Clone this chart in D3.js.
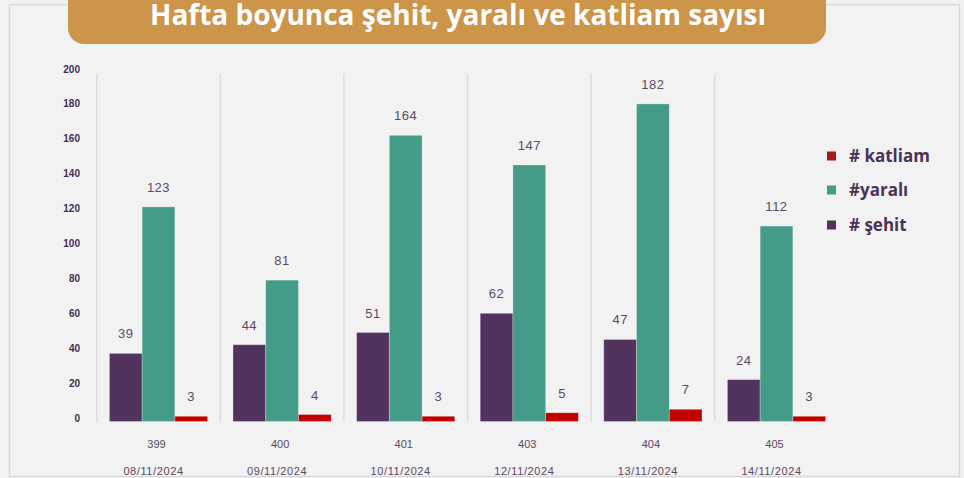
<!DOCTYPE html>
<html>
<head>
<meta charset="utf-8">
<script src="https://cdn.jsdelivr.net/npm/d3@7"></script>
<style>
  body { margin: 0; background: #f2f2f2; }
  svg { display: block; }
</style>
</head>
<body>
<div id="chart"></div>
<script>
// Data
const weeks = ["399", "400", "401", "403", "404", "405"];
const dates = ["08/11/2024", "09/11/2024", "10/11/2024", "12/11/2024", "13/11/2024", "14/11/2024"];
const sehit = [39, 44, 51, 62, 47, 24];
const yarali = [123, 81, 164, 147, 182, 112];
const katliam = [3, 4, 3, 5, 7, 3];
const yTicks = [0, 20, 40, 60, 80, 100, 120, 140, 160, 180, 200];
const seriesNames = ["# şehit", "#yaralı", "# katliam"];
const title = "Hafta boyunca şehit, yaralı ve katliam sayısı";

const width = 964;
const height = 478;
const colors = {"# şehit": "#51335e", "#yaralı": "#449b87", "# katliam": "#c00000"};
const legendColors = {"# şehit": "#51335e", "#yaralı": "#449b87", "# katliam": "#a61a1a"};

const svg = d3.select("#chart")
    .append("svg")
    .attr("width", width)
    .attr("height", height)
    .style("font-family", "'Liberation Sans', Arial, sans-serif");

svg.append("rect")
    .attr("width", width)
    .attr("height", height)
    .attr("fill", "#f2f2f2");

// outer frame
svg.append("rect")
    .attr("x", 9.5)
    .attr("y", 4.5)
    .attr("width", 950)
    .attr("height", 472)
    .attr("fill", "none")
    .attr("stroke", "#d9d9d9")
    .attr("stroke-width", 1.5);

// title banner
svg.append("rect")
    .attr("x", 68)
    .attr("y", -30)
    .attr("width", 758)
    .attr("height", 74)
    .attr("rx", 16)
    .attr("fill", "#cc9549");

svg.append("text")
    .attr("x", 150)
    .attr("y", 25)
    .attr("textLength", 616)
    .attr("lengthAdjust", "spacingAndGlyphs")
    .attr("fill", "#ffffff")
    .style("font-family", "'Open Sans', sans-serif")
    .style("font-weight", "bold")
    .style("font-size", "29px")
    .text(title);

// scales
const x0 = d3.scaleBand()
    .domain(weeks)
    .range([96.7, 838.3]);

const x1 = d3.scaleBand()
    .domain(seriesNames)
    .range([12.7, x0.bandwidth() - 12.7]);

const y = d3.scaleLinear()
    .domain([0, 200])
    .range([421.5, 72.5]);

// vertical separators
svg.append("g")
    .selectAll("line")
    .data(weeks)
    .join("line")
    .attr("x1", d => x0(d))
    .attr("x2", d => x0(d))
    .attr("y1", y(200) + 1.5)
    .attr("y2", y(0))
    .attr("stroke", "#d9d9d9")
    .attr("stroke-width", 1.2);

// y axis
const yAxis = svg.append("g")
    .attr("transform", "translate(80,0)")
    .call(d3.axisLeft(y).tickValues(yTicks).tickSize(0).tickPadding(0));
yAxis.select(".domain").remove();
yAxis.selectAll("text")
    .attr("dy", "0")
    .attr("y", 0)
    .attr("transform", "translate(0,-0.5)")
    .attr("fill", "#3f3050")
    .style("font-family", "'Liberation Sans', Arial, sans-serif")
    .style("font-weight", "bold")
    .style("font-size", "10px");

// bars
const rows = weeks.map((w, i) => ({
    week: w,
    values: [
        {key: "# şehit", value: sehit[i]},
        {key: "#yaralı", value: yarali[i]},
        {key: "# katliam", value: katliam[i]}
    ]
}));

const groups = svg.append("g")
    .selectAll("g")
    .data(rows)
    .join("g")
    .attr("transform", d => `translate(${x0(d.week)},0)`);

groups.selectAll("rect")
    .data(d => d.values)
    .join("rect")
    .attr("x", d => x1(d.key))
    .attr("y", d => y(d.value))
    .attr("width", x1.bandwidth())
    .attr("height", d => y(0) - y(d.value))
    .attr("fill", d => colors[d.key])
    .attr("stroke", "rgba(255,255,255,0.35)")
    .attr("stroke-width", 0.8);

groups.selectAll("text")
    .data(d => d.values)
    .join("text")
    .attr("x", d => x1(d.key) + x1.bandwidth() / 2)
    .attr("y", d => y(d.value) - 15)
    .attr("text-anchor", "middle")
    .attr("fill", "#594a67")
    .style("font-size", "13px")
    .style("letter-spacing", "0.5px")
    .text(d => d.value);

// category labels
svg.append("g")
    .selectAll("text")
    .data(weeks)
    .join("text")
    .attr("x", d => x0(d) + x0.bandwidth() / 2 - 2)
    .attr("y", 448)
    .attr("text-anchor", "middle")
    .attr("fill", "#5a4a62")
    .style("font-size", "11px")
    .text(d => d);

svg.append("g")
    .selectAll("text")
    .data(dates)
    .join("text")
    .attr("x", (d, i) => x0(weeks[i]) + x0.bandwidth() / 2 - 5)
    .attr("y", 474.5)
    .attr("text-anchor", "middle")
    .attr("fill", "#5a4a62")
    .style("font-size", "11px")
    .style("letter-spacing", "0.6px")
    .text(d => d);

// legend
const legendOrder = ["# katliam", "#yaralı", "# şehit"];
const legendY = [156, 190, 225];
const legend = svg.append("g")
    .selectAll("g")
    .data(legendOrder)
    .join("g")
    .attr("transform", (d, i) => `translate(827,${legendY[i]})`);

legend.append("rect")
    .attr("x", 0)
    .attr("y", -4.5)
    .attr("width", 9)
    .attr("height", 9)
    .attr("fill", d => legendColors[d]);

legend.append("text")
    .attr("x", 22)
    .attr("y", 6)
    .attr("fill", "#4a3256")
    .style("font-family", "'Open Sans', sans-serif")
    .style("font-weight", "bold")
    .style("font-size", "17px")
    .text(d => d);
</script>
</body>
</html>
